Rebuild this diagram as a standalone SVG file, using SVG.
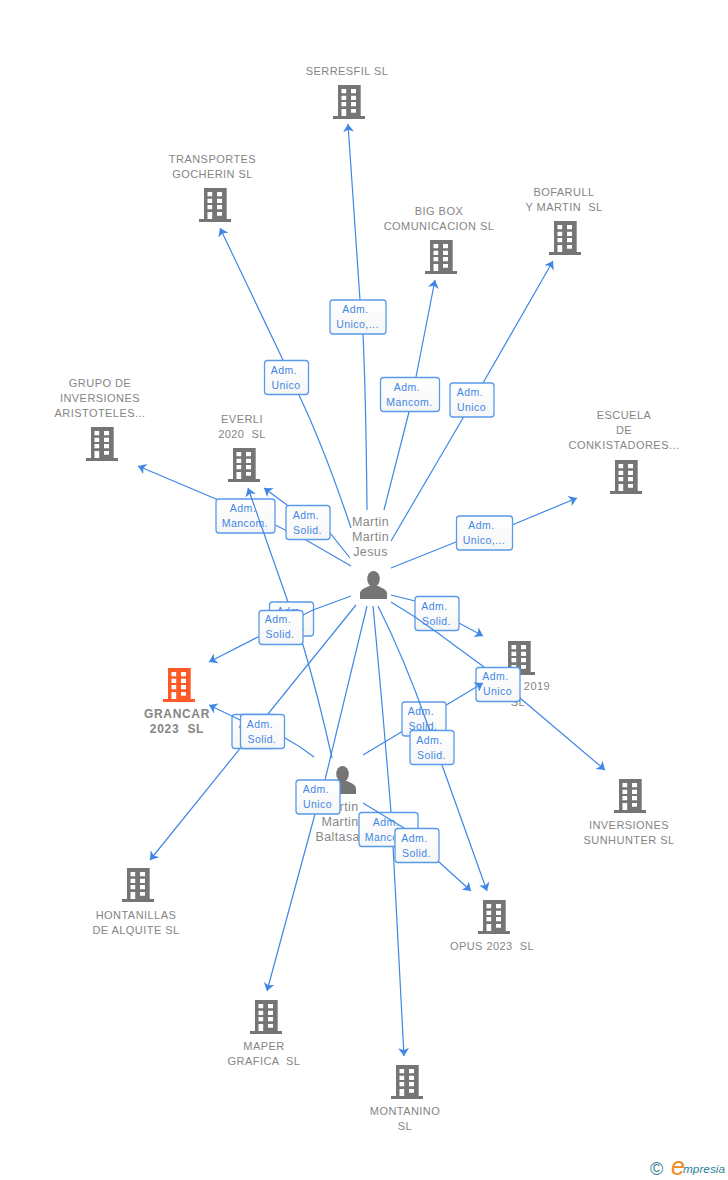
<svg xmlns="http://www.w3.org/2000/svg" xmlns:xlink="http://www.w3.org/1999/xlink" width="728" height="1180" viewBox="0 0 728 1180">
<style>
text{font-family:"Liberation Sans",Arial,sans-serif;white-space:pre}
.n{font-size:11px;fill:#858585;text-anchor:middle;letter-spacing:.45px}
.g{font-size:12px;font-weight:bold;fill:#858585;text-anchor:middle;letter-spacing:.7px}
.p{font-size:12.5px;fill:#888;text-anchor:middle;letter-spacing:.4px}
.l{fill:none;stroke:#3f87e6;stroke-width:1.2;marker-end:url(#a)}
.l0{fill:none;stroke:#3f87e6;stroke-width:1.2}
.b{fill:url(#bg);stroke:#5a9aea;stroke-width:1.3}
.t{font-size:10.5px;fill:#3f87e6;text-anchor:middle;letter-spacing:.45px}
</style>
<defs>
<marker id="a" markerUnits="userSpaceOnUse" markerWidth="12" markerHeight="12" viewBox="0 0 12 12" refX="8" refY="6" orient="auto"><path d="M8 6L0 .5 2.200 6 0 11.500z" fill="#3f87e6"/></marker>
<linearGradient id="bg" x1="0" y1="0" x2="0" y2="1"><stop offset="0" stop-color="#ffffff"/><stop offset="1" stop-color="#f6f6f6"/></linearGradient>
<path id="bw" d="M8.500 4h4.700v4.300h-4.700zM18 4h5v4.300h-5zM8.500 10.700h4.700v4.300h-4.700zM18 10.700h5v4.300h-5zM8.500 17h4.700v4.300h-4.700zM18 17h5v4.300h-5zM8.500 24h4.700v7h-4.700zM18 24h5v3.800h-5z" fill="#fff"/>
<g id="bld"><path d="M5 0h22.700v31H32v3H0v-3h5z" fill="#757575"/><use xlink:href="#bw" href="#bw"/></g>
<g id="bldo"><path d="M5 0h22.700v31H32v3H0v-3h5z" fill="#ff5a26"/><use xlink:href="#bw" href="#bw"/></g>
<g id="per"><ellipse cx="0" cy="-7" rx="6.300" ry="8" fill="#757575"/><path d="M-13.500 13v-5.500c0-4 5-5.500 9-7.500h9c4 2 9 3.500 9 7.500V13z" fill="#757575"/></g>
</defs>
<rect width="728" height="1180" fill="#fff"/>
<g id="n-serresfil"><use href="#bld" x="333" y="85"/><text class="n" x="347" y="75">SERRESFIL SL</text></g>
<g id="n-transportes"><use href="#bld" x="199" y="188"/><text class="n" x="212.500" y="163">TRANSPORTES</text><text class="n" x="212.500" y="178">GOCHERIN SL</text></g>
<g id="n-bigbox"><use href="#bld" x="425" y="240"/><text class="n" x="439" y="215">BIG BOX</text><text class="n" x="439" y="230">COMUNICACION SL</text></g>
<g id="n-bofarull"><use href="#bld" x="549" y="221"/><text class="n" x="564" y="196">BOFARULL</text><text class="n" x="564" y="211">Y MARTIN  SL</text></g>
<g id="n-grupo"><use href="#bld" x="86" y="427"/><text class="n" x="100" y="387">GRUPO DE</text><text class="n" x="100" y="402">INVERSIONES</text><text class="n" x="100" y="417">ARISTOTELES...</text></g>
<g id="n-everli"><use href="#bld" x="228" y="448"/><text class="n" x="242" y="423">EVERLI</text><text class="n" x="242" y="438">2020  SL</text></g>
<g id="n-escuela"><use href="#bld" x="610" y="460"/><text class="n" x="624" y="419">ESCUELA</text><text class="n" x="624" y="434">DE</text><text class="n" x="624" y="449">CONKISTADORES...</text></g>
<g id="n-2019"><use href="#bld" x="503" y="641"/><text class="n" x="537" y="690">2019</text><text class="n" x="518" y="706">SL</text></g>
<g id="n-inversiones"><use href="#bld" x="614" y="779"/><text class="n" x="629" y="829">INVERSIONES</text><text class="n" x="629" y="844">SUNHUNTER SL</text></g>
<g id="n-opus"><use href="#bld" x="478" y="900"/><text class="n" x="492" y="950">OPUS 2023  SL</text></g>
<g id="n-montanino"><use href="#bld" x="391" y="1065"/><text class="n" x="405" y="1115">MONTANINO</text><text class="n" x="405" y="1130">SL</text></g>
<g id="n-maper"><use href="#bld" x="250" y="1000"/><text class="n" x="264" y="1050">MAPER</text><text class="n" x="264" y="1065">GRAFICA  SL</text></g>
<g id="n-hontanillas"><use href="#bld" x="122" y="868"/><text class="n" x="136" y="919">HONTANILLAS</text><text class="n" x="136" y="934">DE ALQUITE SL</text></g>
<g id="n-grancar"><use href="#bldo" x="163" y="668"/><text class="g" x="177" y="718">GRANCAR</text><text class="g" x="177" y="733">2023  SL</text></g>
<g id="n-jesus"><use href="#per" x="373.500" y="586"/><text class="p" x="370.500" y="526">Martin</text><text class="p" x="370.500" y="541">Martin</text><text class="p" x="370.500" y="556">Jesus</text></g>
<g id="n-baltasar"><use href="#per" x="342.500" y="781"/><text class="p" x="340" y="811">Martin</text><text class="p" x="340" y="826">Martin</text><text class="p" x="340" y="841">Baltasar</text></g>
<g id="connectors">
<path class="l" d="M367 510Q366 400 363 334L360 300L348 124"/><rect class="b" x="330" y="300" width="56" height="34" rx="3"/><text class="t" x="355.500" y="313">Adm.</text><text class="t" x="357.500" y="328">Unico,...</text>
<path class="l" d="M351 528Q325 450 299 395L283 360L220 228"/><rect class="b" x="264.500" y="360.500" width="44" height="34" rx="3"/><text class="t" x="284" y="374">Adm.</text><text class="t" x="286" y="389">Unico</text>
<path class="l" d="M384 510L409 412L416 377L435 280"/><rect class="b" x="380.500" y="377.500" width="59" height="34" rx="3"/><text class="t" x="407" y="391">Adm.</text><text class="t" x="409.500" y="406">Mancom.</text>
<path class="l" d="M391 541L463 418L483 383L553 261"/><rect class="b" x="450" y="383" width="44" height="34" rx="3"/><text class="t" x="470" y="396">Adm.</text><text class="t" x="471.500" y="411">Unico</text>
<path class="l" d="M391 568L456 542L512 525L577 498"/><rect class="b" x="456.500" y="516" width="56" height="34" rx="3"/><text class="t" x="481.500" y="529">Adm.</text><text class="t" x="484" y="544">Unico,...</text>
<path class="l" d="M351 566L306 540L275 525L216 499L138 466"/><rect class="b" x="216" y="499" width="59" height="34" rx="3"/><text class="t" x="243" y="512">Adm.</text><text class="t" x="245" y="527">Mancom.</text>
<path class="l" d="M350 558L330 533L287 505L264 488"/><rect class="b" x="286" y="505.500" width="44" height="34" rx="3"/><text class="t" x="306" y="519">Adm.</text><text class="t" x="307.500" y="534">Solid.</text>
<path class="l" d="M332 758Q318 695 303 645L288 602L248 488"/><rect class="b" x="269.500" y="602" width="44" height="34" rx="3"/><text class="t" x="290" y="615">Adm.</text><text class="t" x="291" y="630">Solid.</text>
<path class="l" d="M351 596L313 610L258 637L209 662"/><rect class="b" x="259" y="610.500" width="44" height="34" rx="3"/><text class="t" x="278" y="623">Adm.</text><text class="t" x="280" y="638">Solid.</text>
<path class="l" d="M391 595L415 601L459 623L483 636"/><rect class="b" x="415" y="596.500" width="44" height="34" rx="3"/><text class="t" x="434.500" y="610">Adm.</text><text class="t" x="436.500" y="625">Solid.</text>
<path class="l" d="M391 602L415 617L435 631L484 667L520 698L605 770"/><rect class="b" x="476" y="667.500" width="44" height="34" rx="3"/><text class="t" x="495.500" y="680">Adm.</text><text class="t" x="497.500" y="695">Unico</text>
<path class="l" d="M363 755L483 683"/><rect class="b" x="402" y="702" width="44" height="34" rx="3"/><text class="t" x="421" y="715">Adm.</text><text class="t" x="423" y="730">Solid.</text>
<path class="l" d="M378 606Q405 660 427 723L442 765L487 891"/><rect class="b" x="410" y="730.500" width="44" height="34" rx="3"/><text class="t" x="429.500" y="744">Adm.</text><text class="t" x="431.500" y="759">Solid.</text>
<path class="l" d="M356 605L150 860"/><rect class="b" x="232" y="714.500" width="44" height="34" rx="3"/><text class="t" x="252" y="728">Adm.</text><text class="t" x="254" y="743">Solid.</text>
<path class="l" d="M314 757Q300 746 285 738L240 720L209 705"/><rect class="b" x="240.500" y="714.500" width="44" height="34" rx="3"/><text class="t" x="260" y="728">Adm.</text><text class="t" x="262" y="743">Solid.</text>
<path class="l" d="M367 606L325 780L315 814L267 991"/><rect class="b" x="296" y="780" width="44" height="34" rx="3"/><text class="t" x="316" y="793">Adm.</text><text class="t" x="317.500" y="808">Unico</text>
<path class="l" d="M373 606Q382 700 391 812L393 846L404 1056"/><rect class="b" x="359" y="812.500" width="59" height="34" rx="3"/><text class="t" x="386" y="826">Adm.</text><text class="t" x="388" y="841">Mancom.</text>
<path class="l" d="M363 803L404 828L439 862L471 891"/><rect class="b" x="395" y="828.500" width="44" height="34" rx="3"/><text class="t" x="414.500" y="842">Adm.</text><text class="t" x="416.500" y="857">Solid.</text>
</g>
<g id="logo"><text x="650" y="1175" font-size="18" fill="#3d7f99">©</text><text x="671" y="1175" font-size="25" font-style="italic" fill="#f08a1d">e</text><text x="683" y="1173" font-size="11.800" font-style="italic" fill="#2f7f9a">mpresia</text></g>
</svg>
